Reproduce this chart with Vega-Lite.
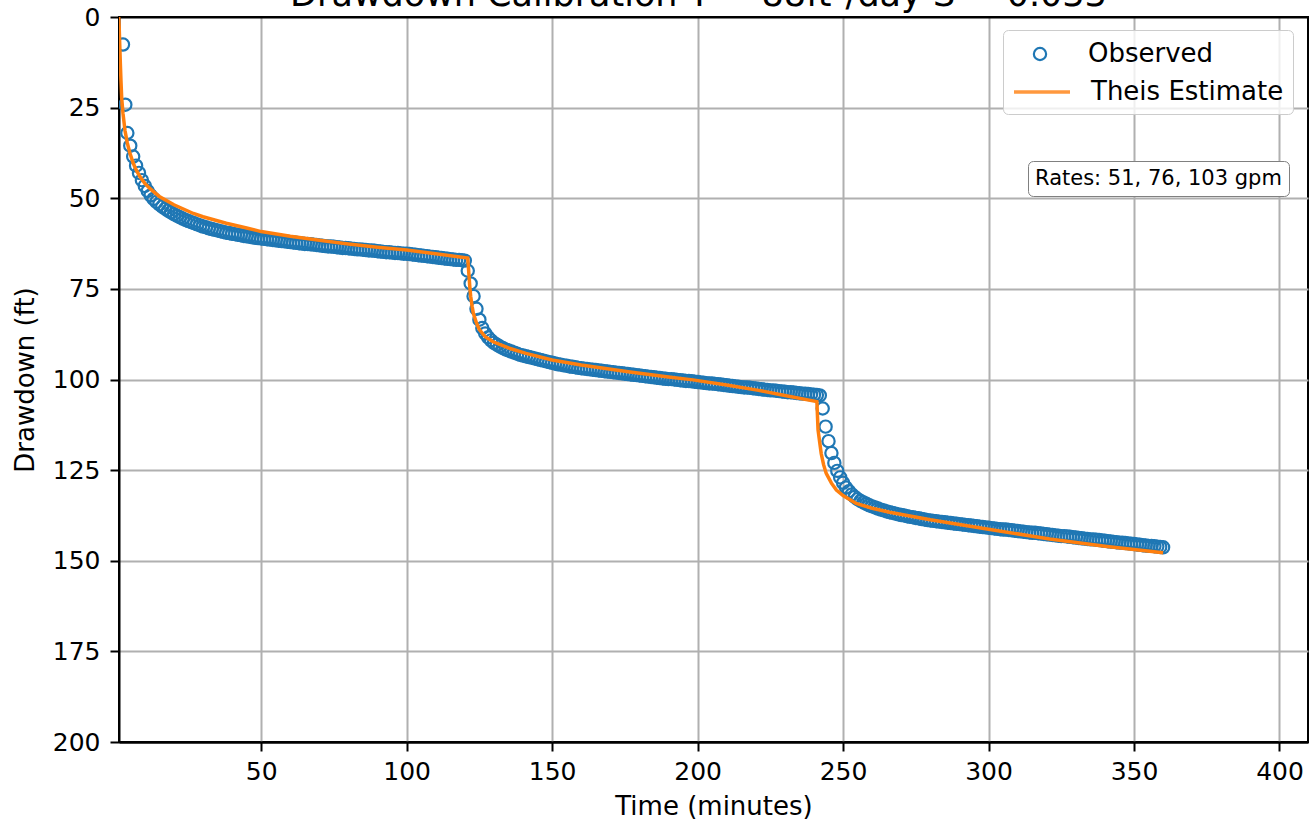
{
  "$schema": "https://vega.github.io/schema/vega-lite/v6.json",
  "autosize": "none",
  "width": 1189,
  "height": 725,
  "padding": {"left": 119, "top": 17, "right": 1, "bottom": 81},
  "title": {"text": "Drawdown Calibration T = 88ft²/day S = 0.033", "fontSize": 35, "font": "DejaVu Sans", "fontWeight": "normal", "color": "black", "anchor": "middle", "baseline": "alphabetic", "offset": 0, "dy": 36, "dx": -15},
  "config": {"font": "DejaVu Sans", "view": {"stroke": "black", "strokeWidth": 2}},
  "datasets": {
    "obs": [
      {"t":2.5,"s":7.6},{"t":3.3,"s":24.2},
      {"t":4,"s":32.0},{"t":5,"s":35.5},{"t":6,"s":38.5},{"t":7,"s":41.0},{"t":8,"s":43.0},{"t":9,"s":45.0},{"t":10,"s":46.6},
      {"t":11,"s":48.0},{"t":12,"s":49.2},{"t":13,"s":50.2},{"t":14,"s":51.0},{"t":15,"s":51.7},{"t":16,"s":52.3},{"t":17,"s":52.9},{"t":18,"s":53.4},{"t":19,"s":53.9},{"t":20,"s":54.4},
      {"t":21,"s":54.8},{"t":22,"s":55.2},{"t":23,"s":55.6},{"t":24,"s":56.0},{"t":25,"s":56.3},{"t":26,"s":56.6},{"t":27,"s":56.9},{"t":28,"s":57.2},{"t":29,"s":57.5},{"t":30,"s":57.8},
      {"t":31,"s":58.0},{"t":32,"s":58.3},{"t":33,"s":58.5},{"t":34,"s":58.7},{"t":35,"s":58.9},{"t":36,"s":59.1},{"t":37,"s":59.3},{"t":38,"s":59.5},{"t":39,"s":59.6},{"t":40,"s":59.8},
      {"t":41,"s":59.9},{"t":42,"s":60.1},{"t":43,"s":60.2},{"t":44,"s":60.4},{"t":45,"s":60.5},{"t":46,"s":60.6},{"t":47,"s":60.8},{"t":48,"s":60.9},{"t":49,"s":61.0},{"t":50,"s":61.1},
      {"t":51,"s":61.2},{"t":52,"s":61.3},{"t":53,"s":61.4},{"t":54,"s":61.5},{"t":55,"s":61.6},{"t":56,"s":61.7},{"t":57,"s":61.8},{"t":58,"s":61.9},{"t":59,"s":62.0},{"t":60,"s":62.1},
      {"t":61,"s":62.2},{"t":62,"s":62.3},{"t":63,"s":62.4},{"t":64,"s":62.5},{"t":65,"s":62.6},{"t":66,"s":62.6},{"t":67,"s":62.7},{"t":68,"s":62.8},{"t":69,"s":62.9},{"t":70,"s":63.0},
      {"t":71,"s":63.1},{"t":72,"s":63.2},{"t":73,"s":63.3},{"t":74,"s":63.3},{"t":75,"s":63.4},{"t":76,"s":63.5},{"t":77,"s":63.6},{"t":78,"s":63.7},{"t":79,"s":63.7},{"t":80,"s":63.8},
      {"t":81,"s":63.9},{"t":82,"s":64.0},{"t":83,"s":64.1},{"t":84,"s":64.1},{"t":85,"s":64.2},{"t":86,"s":64.3},{"t":87,"s":64.4},{"t":88,"s":64.4},{"t":89,"s":64.5},{"t":90,"s":64.6},
      {"t":91,"s":64.7},{"t":92,"s":64.8},{"t":93,"s":64.9},{"t":94,"s":64.9},{"t":95,"s":65.0},{"t":96,"s":65.1},{"t":97,"s":65.1},{"t":98,"s":65.2},{"t":99,"s":65.3},{"t":100,"s":65.3},
      {"t":101,"s":65.4},{"t":102,"s":65.5},{"t":103,"s":65.6},{"t":104,"s":65.7},{"t":105,"s":65.8},{"t":106,"s":65.9},{"t":107,"s":66.0},{"t":108,"s":66.1},{"t":109,"s":66.2},{"t":110,"s":66.3},
      {"t":111,"s":66.4},{"t":112,"s":66.5},{"t":113,"s":66.6},{"t":114,"s":66.7},{"t":115,"s":66.8},{"t":116,"s":66.9},{"t":117,"s":67.0},{"t":118,"s":67.0},{"t":119,"s":67.1},{"t":120,"s":67.2},
      {"t":121,"s":70.0},{"t":122,"s":73.5},{"t":123,"s":77.0},{"t":124,"s":80.5},{"t":125,"s":83.5},{"t":126,"s":85.8},{"t":127,"s":87.3},{"t":128,"s":88.4},{"t":129,"s":89.2},{"t":130,"s":89.9},
      {"t":131,"s":90.4},{"t":132,"s":90.9},{"t":133,"s":91.3},{"t":134,"s":91.7},{"t":135,"s":92.0},{"t":136,"s":92.3},{"t":137,"s":92.6},{"t":138,"s":92.9},{"t":139,"s":93.2},{"t":140,"s":93.4},
      {"t":141,"s":93.6},{"t":142,"s":93.8},{"t":143,"s":94.0},{"t":144,"s":94.2},{"t":145,"s":94.4},{"t":146,"s":94.6},{"t":147,"s":94.8},{"t":148,"s":95.0},{"t":149,"s":95.2},{"t":150,"s":95.4},
      {"t":151,"s":95.6},{"t":152,"s":95.8},{"t":153,"s":95.9},{"t":154,"s":96.1},{"t":155,"s":96.2},{"t":156,"s":96.4},{"t":157,"s":96.5},{"t":158,"s":96.6},{"t":159,"s":96.8},{"t":160,"s":96.9},
      {"t":161,"s":97.0},{"t":162,"s":97.1},{"t":163,"s":97.2},{"t":164,"s":97.3},{"t":165,"s":97.4},{"t":166,"s":97.5},{"t":167,"s":97.6},{"t":168,"s":97.7},{"t":169,"s":97.8},{"t":170,"s":97.9},
      {"t":171,"s":98.0},{"t":172,"s":98.1},{"t":173,"s":98.2},{"t":174,"s":98.3},{"t":175,"s":98.4},{"t":176,"s":98.5},{"t":177,"s":98.6},{"t":178,"s":98.7},{"t":179,"s":98.8},{"t":180,"s":98.9},
      {"t":181,"s":99.0},{"t":182,"s":99.1},{"t":183,"s":99.2},{"t":184,"s":99.3},{"t":185,"s":99.4},{"t":186,"s":99.5},{"t":187,"s":99.6},{"t":188,"s":99.7},{"t":189,"s":99.8},{"t":190,"s":99.9},
      {"t":191,"s":99.9},{"t":192,"s":100.0},{"t":193,"s":100.1},{"t":194,"s":100.2},{"t":195,"s":100.3},{"t":196,"s":100.4},{"t":197,"s":100.4},{"t":198,"s":100.5},{"t":199,"s":100.6},{"t":200,"s":100.7},
      {"t":201,"s":100.8},{"t":202,"s":100.9},{"t":203,"s":101.0},{"t":204,"s":101.1},{"t":205,"s":101.1},{"t":206,"s":101.2},{"t":207,"s":101.3},{"t":208,"s":101.4},{"t":209,"s":101.5},{"t":210,"s":101.6},
      {"t":211,"s":101.7},{"t":212,"s":101.8},{"t":213,"s":101.9},{"t":214,"s":102.0},{"t":215,"s":102.1},{"t":216,"s":102.2},{"t":217,"s":102.2},{"t":218,"s":102.3},{"t":219,"s":102.4},{"t":220,"s":102.5},
      {"t":221,"s":102.6},{"t":222,"s":102.7},{"t":223,"s":102.8},{"t":224,"s":102.9},{"t":225,"s":103.0},{"t":226,"s":103.0},{"t":227,"s":103.1},{"t":228,"s":103.2},{"t":229,"s":103.3},{"t":230,"s":103.4},
      {"t":231,"s":103.5},{"t":232,"s":103.5},{"t":233,"s":103.6},{"t":234,"s":103.7},{"t":235,"s":103.8},{"t":236,"s":103.9},{"t":237,"s":103.9},{"t":238,"s":104.0},{"t":239,"s":104.1},{"t":240,"s":104.2},
      {"t":241,"s":104.3},{"t":242,"s":104.4},
      {"t":243,"s":108.0},{"t":244,"s":113.0},{"t":245,"s":117.0},{"t":246,"s":120.3},{"t":247,"s":123.0},{"t":248,"s":125.2},{"t":249,"s":127.0},{"t":250,"s":128.5},
      {"t":251,"s":129.8},{"t":252,"s":130.8},{"t":253,"s":131.7},{"t":254,"s":132.4},{"t":255,"s":133.0},{"t":256,"s":133.5},{"t":257,"s":133.9},{"t":258,"s":134.3},{"t":259,"s":134.7},{"t":260,"s":135.0},
      {"t":261,"s":135.3},{"t":262,"s":135.6},{"t":263,"s":135.9},{"t":264,"s":136.1},{"t":265,"s":136.4},{"t":266,"s":136.6},{"t":267,"s":136.8},{"t":268,"s":137.0},{"t":269,"s":137.2},{"t":270,"s":137.4},
      {"t":271,"s":137.5},{"t":272,"s":137.7},{"t":273,"s":137.9},{"t":274,"s":138.0},{"t":275,"s":138.2},{"t":276,"s":138.3},{"t":277,"s":138.5},{"t":278,"s":138.6},{"t":279,"s":138.8},{"t":280,"s":138.9},
      {"t":281,"s":139.0},{"t":282,"s":139.1},{"t":283,"s":139.2},{"t":284,"s":139.3},{"t":285,"s":139.4},{"t":286,"s":139.5},{"t":287,"s":139.6},{"t":288,"s":139.7},{"t":289,"s":139.8},{"t":290,"s":139.9},
      {"t":291,"s":140.0},{"t":292,"s":140.1},{"t":293,"s":140.2},{"t":294,"s":140.3},{"t":295,"s":140.4},{"t":296,"s":140.5},{"t":297,"s":140.6},{"t":298,"s":140.7},{"t":299,"s":140.8},{"t":300,"s":140.9},
      {"t":301,"s":141.0},{"t":302,"s":141.1},{"t":303,"s":141.2},{"t":304,"s":141.3},{"t":305,"s":141.4},{"t":306,"s":141.4},{"t":307,"s":141.5},{"t":308,"s":141.6},{"t":309,"s":141.7},{"t":310,"s":141.8},
      {"t":311,"s":141.9},{"t":312,"s":142.0},{"t":313,"s":142.1},{"t":314,"s":142.2},{"t":315,"s":142.3},{"t":316,"s":142.3},{"t":317,"s":142.4},{"t":318,"s":142.5},{"t":319,"s":142.6},{"t":320,"s":142.7},
      {"t":321,"s":142.8},{"t":322,"s":142.9},{"t":323,"s":143.0},{"t":324,"s":143.1},{"t":325,"s":143.2},{"t":326,"s":143.2},{"t":327,"s":143.3},{"t":328,"s":143.4},{"t":329,"s":143.5},{"t":330,"s":143.6},
      {"t":331,"s":143.7},{"t":332,"s":143.8},{"t":333,"s":143.9},{"t":334,"s":144.0},{"t":335,"s":144.1},{"t":336,"s":144.1},{"t":337,"s":144.2},{"t":338,"s":144.3},{"t":339,"s":144.4},{"t":340,"s":144.5},
      {"t":341,"s":144.6},{"t":342,"s":144.7},{"t":343,"s":144.8},{"t":344,"s":144.9},{"t":345,"s":145.0},{"t":346,"s":145.0},{"t":347,"s":145.1},{"t":348,"s":145.2},{"t":349,"s":145.3},{"t":350,"s":145.4},
      {"t":351,"s":145.5},{"t":352,"s":145.6},{"t":353,"s":145.7},{"t":354,"s":145.8},{"t":355,"s":145.9},{"t":356,"s":145.9},{"t":357,"s":146.0},{"t":358,"s":146.1},{"t":359,"s":146.2},{"t":360,"s":146.3}
    ],
    "theis": [
      {"t":1.0,"s":0},{"t":1.2,"s":3},{"t":1.4,"s":8},{"t":1.6,"s":13},{"t":1.8,"s":17.5},{"t":2.06,"s":22.4},{"t":2.5,"s":26.6},{"t":3.2,"s":31.4},{"t":4,"s":34.8},{"t":4.9,"s":37.6},
      {"t":6,"s":40.3},{"t":7,"s":42.1},{"t":8.3,"s":44.0},{"t":10,"s":45.9},{"t":12,"s":47.5},{"t":15,"s":49.5},{"t":20,"s":51.8},{"t":26.7,"s":54.2},{"t":30,"s":55.1},{"t":38,"s":56.9},
      {"t":45,"s":58.2},{"t":50,"s":59.2},{"t":60,"s":60.5},{"t":70,"s":61.6},{"t":80,"s":62.6},{"t":90,"s":63.5},{"t":100,"s":64.3},{"t":110,"s":65.3},{"t":121,"s":66.5},
      {"t":121.4,"s":71},{"t":121.7,"s":74.4},{"t":122,"s":77},{"t":122.5,"s":79.8},{"t":122.9,"s":81.7},{"t":124,"s":84.4},{"t":125,"s":86.2},{"t":127,"s":88.2},{"t":129.7,"s":89.6},
      {"t":135,"s":91.3},{"t":141,"s":92.8},{"t":150,"s":94.6},{"t":160,"s":96},{"t":175.5,"s":97.8},{"t":190,"s":99.3},{"t":198.4,"s":100.1},{"t":210,"s":101.5},{"t":221,"s":103},{"t":230,"s":104.4},{"t":241,"s":106.1},
      {"t":241.4,"s":113.9},{"t":242,"s":117.5},{"t":242.5,"s":120.5},{"t":243.3,"s":123.5},{"t":244.2,"s":125.9},{"t":246,"s":128.6},{"t":247.7,"s":130.5},{"t":250,"s":132},{"t":254.5,"s":134.2},
      {"t":260,"s":135.5},{"t":266,"s":136.6},{"t":280,"s":138.7},{"t":300,"s":141.3},{"t":321,"s":144.0},{"t":340,"s":146.0},{"t":360,"s":147.8}
    ]
  },
  "encoding": {
    "x": {"field": "t", "type": "quantitative", "scale": {"domain": [1.13, 409.8], "nice": false, "zero": false},
      "axis": {"title": "Time (minutes)", "values": [50,100,150,200,250,300,350,400], "grid": true, "gridColor": "#b0b0b0", "gridWidth": 2,
        "domain": true, "domainColor": "black", "domainWidth": 2, "tickColor": "black", "tickWidth": 2, "tickSize": 9,
        "labelFontSize": 25, "labelColor": "black", "labelPadding": 8, "labelFont": "DejaVu Sans",
        "titleFontSize": 26, "titleFontWeight": "normal", "titleColor": "black", "titlePadding": 9, "titleFont": "DejaVu Sans"}},
    "y": {"field": "s", "type": "quantitative", "scale": {"domain": [0, 200], "reverse": true, "nice": false},
      "axis": {"title": "Drawdown (ft)", "values": [0,25,50,75,100,125,150,175,200], "grid": true,
        "gridColor": {"condition": {"test": "datum.value === 0 || datum.value === 200", "value": "black"}, "value": "#b0b0b0"}, "gridWidth": 2,
        "domain": true, "domainColor": "black", "domainWidth": 2, "tickColor": "black", "tickWidth": 2, "tickSize": 9,
        "labelFontSize": 25, "labelColor": "black", "labelPadding": 10, "labelFont": "DejaVu Sans",
        "titleFontSize": 26, "titleFontWeight": "normal", "titleColor": "black", "titlePadding": 14, "titleFont": "DejaVu Sans"}}
  },
  "layer": [
    {
      "data": {"name": "obs"},
      "mark": {"type": "point", "shape": "circle", "filled": false, "size": 150, "strokeWidth": 2.2, "opacity": 1, "clip": true},
      "encoding": {
        "color": {"datum": "Observed", "type": "nominal",
          "scale": {"domain": ["Observed"], "range": ["#1f77b4"]},
          "legend": {"orient": "none", "legendX": 908, "legendY": 24, "title": null, "zindex": 3,
            "labelFontSize": 26, "labelFont": "DejaVu Sans", "labelColor": "black", "labelOffset": 35, "labelLimit": 500,
            "symbolType": "circle", "symbolSize": 150, "symbolStrokeWidth": 2.2, "padding": 0}}
      }
    },
    {
      "data": {"name": "theis"},
      "mark": {"type": "line", "strokeWidth": 3.5, "clip": true},
      "encoding": {
        "stroke": {"datum": "Theis Estimate", "type": "nominal",
          "scale": {"domain": ["Theis Estimate"], "range": ["#ff7f0e"]},
          "legend": {"orient": "none", "legendX": 884, "legendY": 13, "zindex": 2,
            "title": " ", "titleFontSize": 16, "titlePadding": 7, "titleFont": "DejaVu Sans",
            "labelFontSize": 26, "labelFont": "DejaVu Sans", "labelColor": "black", "labelOffset": 19, "labelLimit": 500,
            "symbolType": "stroke", "symbolSize": 3136, "symbolStrokeWidth": 3.5, "symbolOpacity": 0.8, "padding": 9,
            "fillColor": "rgba(255,255,255,0.8)", "strokeColor": "#cccccc", "cornerRadius": 5}},
        "opacity": {"datum": "Rates: 51, 76, 103 gpm", "type": "nominal",
          "scale": {"domain": ["Rates: 51, 76, 103 gpm"], "range": [0.8]},
          "legend": {"orient": "none", "legendX": 909, "legendY": 144, "title": null, "zindex": 1,
            "labelFontSize": 21, "labelFont": "DejaVu Sans", "labelColor": "black", "labelOffset": -21, "labelLimit": 500,
            "symbolType": "circle", "symbolSize": 0, "symbolOpacity": 0, "symbolStrokeWidth": 0, "padding": 7,
            "fillColor": "white", "strokeColor": "#808080", "cornerRadius": 5}}
      }
    }
  ]
}
